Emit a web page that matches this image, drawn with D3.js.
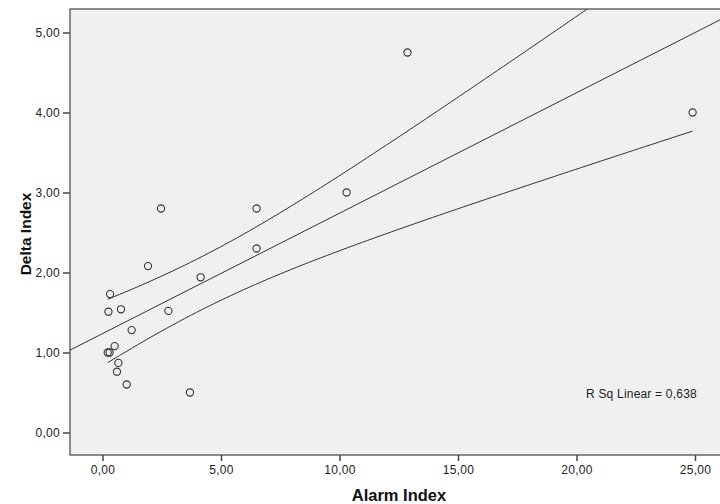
<!DOCTYPE html>
<html>
<head>
<meta charset="utf-8">
<script src="https://cdn.jsdelivr.net/npm/d3@7"></script>
<style>
  body { margin: 0; background: #fff; }
  svg { display: block; font-family: "Liberation Sans", Arial, sans-serif; }
</style>
</head>
<body>
<svg id="chart" width="720" height="504"></svg>
<script>
// Alarm Index vs Delta Index
const alarmIndex = [12.87, 24.9, 10.3, 6.5, 2.47, 6.5, 1.92, 4.14, 0.32, 0.25, 0.78, 2.78, 1.23, 0.51, 0.22, 0.3, 0.67, 0.61, 1.02, 3.69];
const deltaIndex = [4.75, 4.0, 3.0, 2.8, 2.8, 2.3, 2.08, 1.94, 1.73, 1.51, 1.54, 1.52, 1.28, 1.08, 1.0, 1.0, 0.87, 0.76, 0.6, 0.5];
const xTicks = [0, 5, 10, 15, 20, 25];
const yTicks = [0, 1, 2, 3, 4, 5];
const rSqLabel = "R Sq Linear = 0,638";

const svg = d3.select("#chart");
const plotLeft = 70, plotTop = 9, plotRight = 724, plotBottom = 455;

const x = d3.scaleLinear().domain([0, 25]).range([102.5, 695]);
const y = d3.scaleLinear().domain([0, 5]).range([432.5, 32.5]);

const fmt = (d) => d.toFixed(2).replace(".", ",");

// plot background
svg.append("rect")
  .attr("x", plotLeft).attr("y", plotTop)
  .attr("width", plotRight - plotLeft).attr("height", plotBottom - plotTop)
  .attr("fill", "#f0f0f0")
  .attr("stroke", "#444").attr("stroke-width", 1.2);

svg.append("clipPath").attr("id", "plotClip")
  .append("rect")
  .attr("x", plotLeft).attr("y", plotTop)
  .attr("width", plotRight - plotLeft).attr("height", plotBottom - plotTop);

// axes
const xAxis = svg.append("g")
  .attr("transform", `translate(0,${plotBottom})`)
  .call(d3.axisBottom(x).tickValues(xTicks).tickFormat(fmt).tickSize(6).tickPadding(3).tickSizeOuter(0));
const yAxis = svg.append("g")
  .attr("transform", `translate(${plotLeft},0)`)
  .call(d3.axisLeft(y).tickValues(yTicks).tickFormat(fmt).tickSize(7).tickPadding(3).tickSizeOuter(0));

[xAxis, yAxis].forEach((g) => {
  g.select(".domain").remove();
  g.selectAll(".tick line").attr("stroke", "#444").attr("stroke-width", 1.5);
  g.selectAll(".tick text")
    .attr("fill", "#222").attr("font-size", 12)
    .attr("letter-spacing", 0.3);
});
xAxis.selectAll(".tick text").attr("dy", "0.85em");

// linear fit + 95% confidence band of the mean
const n = alarmIndex.length;
const mx = d3.mean(alarmIndex), my = d3.mean(deltaIndex);
let sxx = 0, sxy = 0;
alarmIndex.forEach((xi, i) => {
  sxx += (xi - mx) ** 2;
  sxy += (xi - mx) * (deltaIndex[i] - my);
});
const slope = sxy / sxx;
const intercept = my - slope * mx;
let sse = 0;
alarmIndex.forEach((xi, i) => { sse += (deltaIndex[i] - (intercept + slope * xi)) ** 2; });
const se = Math.sqrt(sse / (n - 2));
const tCrit = 2.101; // df = 18

const plot = svg.append("g").attr("clip-path", "url(#plotClip)");
const line = d3.line().x((d) => x(d[0])).y((d) => y(d[1]));

const fitX = x.invert(plotLeft), fitX2 = x.invert(plotRight);
plot.append("path")
  .attr("d", line([[fitX, intercept + slope * fitX], [fitX2, intercept + slope * fitX2]]))
  .attr("fill", "none").attr("stroke", "#333").attr("stroke-width", 1);

const xMin = d3.min(alarmIndex), xMax = d3.max(alarmIndex);
const xs = d3.range(100).map((i) => xMin + (xMax - xMin) * i / 99);
const band = (sign) => xs.map((xv) => {
  const h = tCrit * se * Math.sqrt(1 / n + (xv - mx) ** 2 / sxx);
  return [xv, intercept + slope * xv + sign * h];
});
[1, -1].forEach((s) => {
  plot.append("path")
    .attr("d", line(band(s)))
    .attr("fill", "none").attr("stroke", "#333").attr("stroke-width", 1);
});

// points
plot.selectAll("circle")
  .data(alarmIndex)
  .join("circle")
  .attr("cx", (d) => x(d))
  .attr("cy", (d, i) => y(deltaIndex[i]))
  .attr("r", 3.6)
  .attr("fill", "none")
  .attr("stroke", "#333")
  .attr("stroke-width", 1.1);

svg.append("text")
  .attr("x", 586).attr("y", 398)
  .attr("font-size", 12).attr("fill", "#222")
  .attr("letter-spacing", 0.2)
  .text(rSqLabel);

// axis titles
svg.append("text")
  .attr("x", 399).attr("y", 501)
  .attr("text-anchor", "middle")
  .attr("font-size", 16.5).attr("font-weight", "bold").attr("fill", "#111")
  .text("Alarm Index");
svg.append("text")
  .attr("transform", "translate(31,234) rotate(-90)")
  .attr("text-anchor", "middle")
  .attr("font-size", 15.5).attr("font-weight", "bold").attr("fill", "#111")
  .text("Delta Index");
</script>
</body>
</html>
